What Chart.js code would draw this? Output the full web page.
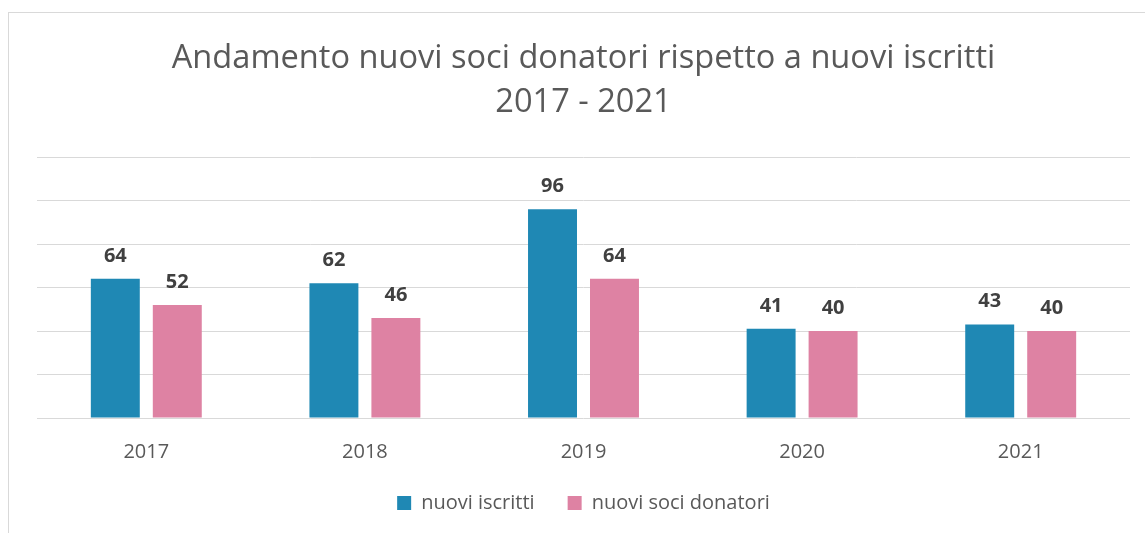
<!DOCTYPE html>
<html>
<head>
<meta charset="utf-8">
<script src="https://cdn.jsdelivr.net/npm/chart.js@4"></script>
<style>
	html, body { margin: 0; padding: 0; background: #fff; }
	#wrap { position: relative; width: 1145px; height: 533px; }
	#frame { position: absolute; left: 8px; top: 12px; right: 0; bottom: 0; border-left: 1px solid #d9d9d9; border-top: 1px solid #d9d9d9; }
	canvas { position: absolute; left: 0; top: 0; }
</style>
</head>
<body>
<div id="wrap">
	<div id="frame"></div>
	<canvas id="chart" width="1145" height="533"></canvas>
</div>
<script>
const years = ["2017", "2018", "2019", "2020", "2021"];
const nuovi_iscritti = [64, 62, 96, 41, 43];
const nuovi_soci_donatori = [52, 46, 64, 40, 40];
const title_lines = ["Andamento nuovi soci donatori rispetto a nuovi iscritti", "2017 - 2021"];

const chart_elem = document.getElementById("chart");

// simple value labels above each bar
let value_labels = {
	id: 'value_labels',
	afterDatasetsDraw: (chart) => {
		const ctx = chart.ctx;
		ctx.save();
		ctx.font = "bold 20px 'Open Sans'";
		ctx.fillStyle = "#404040";
		ctx.textAlign = "center";
		ctx.textBaseline = "alphabetic";
		chart.data.datasets.forEach((ds, i) => {
			chart.getDatasetMeta(i).data.forEach((bar, j) => {
				ctx.fillText(ds.data[j], bar.x, bar.y - 17);
			});
		});
		ctx.restore();
	}
};

const config = {
	type: 'bar',
	data: {
		labels: years,
		datasets: [
			{
				label: "nuovi iscritti",
				data: nuovi_iscritti,
				backgroundColor: "#1f88b4"
			},
			{
				label: "nuovi soci donatori",
				data: nuovi_soci_donatori,
				backgroundColor: "#de82a3"
			}
		]
	},
	options: {
		responsive: false,
		animation: false,
		categoryPercentage: 0.567,
		barPercentage: 0.79,
		layout: {
			padding: { left: 37, right: 15, top: 0, bottom: 10 }
		},
		plugins: {
			title: {
				display: true,
				text: title_lines,
				color: "#595959",
				font: { family: "'Open Sans'", size: 32.6, weight: 'normal', lineHeight: 1.35 },
				padding: { top: 37, bottom: 32 }
			},
			legend: {
				position: 'bottom',
				labels: {
					color: "#595959",
					font: { family: "'Open Sans'", size: 20 },
					boxWidth: 14,
					boxHeight: 14,
					padding: 33
				}
			},
			tooltip: { enabled: false }
		},
		scales: {
			x: {
				grid: { display: false, drawTicks: false },
				border: { display: false },
				ticks: {
					color: "#595959",
					font: { family: "'Open Sans'", size: 20 },
					padding: 22
				},
				afterFit: (axis) => { axis.height = 42; }
			},
			y: {
				min: 0,
				max: 120,
				ticks: { display: false, stepSize: 20 },
				grid: { color: "#d9d9d9", drawTicks: false },
				border: { display: false }
			}
		}
	},
	plugins: [value_labels]
};

new Chart(chart_elem, config);
</script>
</body>
</html>
